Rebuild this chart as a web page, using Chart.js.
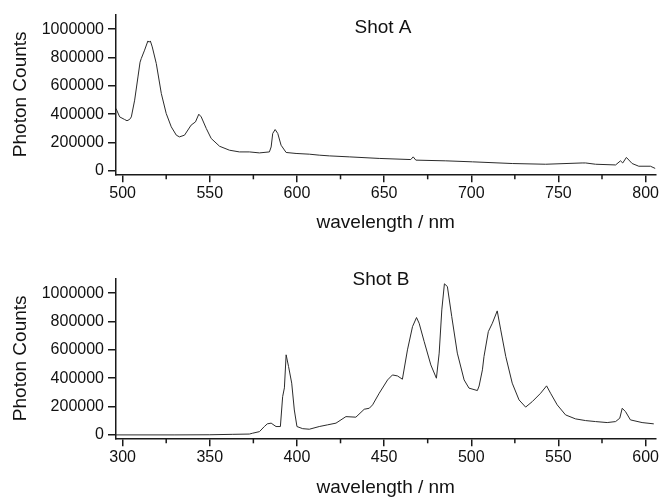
<!DOCTYPE html>
<html>
<head>
<meta charset="utf-8">
<script src="https://cdn.jsdelivr.net/npm/chart.js@4.4.1/dist/chart.umd.min.js"></script>
<style>
  html, body { margin: 0; padding: 0; background: #fff; overflow: hidden; }
  #wrap { position: relative; width: 661px; height: 498px; }
  canvas { position: absolute; left: 0; }
</style>
</head>
<body>
<div id="wrap">
  <canvas id="shotA" width="661" height="249" style="top:0px"></canvas>
  <canvas id="shotB" width="661" height="260" style="top:249px"></canvas>
</div>
<script>
// Shot A spectrum (wavelength in nm, photon counts)
const shotAWavelength = [
  496.2, 498.3, 501.1, 502.5, 504, 505, 506.9, 508.8, 510, 510.7, 512.6, 514.5, 515.2, 515.9, 517,
  519.3, 522.2, 525, 527.9, 530.8, 532.6, 535.5, 539.3, 541.8, 543.7, 545.1, 548, 550.8, 555.6,
  561.3, 567, 572.7, 578.5, 584.2, 585.2, 586.1, 587.5, 589, 590.9, 593.8, 599.5, 607.1, 612.8,
  618.6, 630, 647.2, 665.3, 666.7, 668.2, 685.4, 700.7, 723.5, 742.7, 763.6, 765.6, 771.3, 782.8,
  785.6, 786.9, 789, 792.3, 796.1, 802.8, 805.6
];
const shotACounts = [
  440000, 381000, 363000, 354000, 363000, 381000, 499000, 663000, 767000, 793000, 852000, 917000, 908000, 917000, 875000,
  758000, 546000, 405000, 311000, 252000, 240000, 252000, 323000, 346000, 400000, 381000, 299000, 229000, 174000,
  146000, 134000, 134000, 127000, 134000, 169000, 264000, 292000, 264000, 181000, 130000, 123000, 118000, 111000,
  106000, 99000, 88000, 80000, 99000, 76000, 71000, 64000, 52000, 47000, 56000, 56000, 47000, 42000,
  71000, 56000, 95000, 52000, 33000, 33000, 17000
];

// Shot B spectrum
const shotBWavelength = [
  296.2, 330, 350, 363.2, 372.7, 374.6, 378.5, 381.3, 383, 385.2, 388, 390.5, 391.8, 392.8, 393.8,
  395.2, 397, 398.5, 400, 403.3, 407.1, 412.8, 417.6, 422.4, 428.1, 433.8, 438.6, 441.5, 443.4,
  447.2, 452, 454.8, 457.7, 460.5, 463.4, 466.3, 468.6, 470.1, 473, 476.8, 480, 481.6, 483.1,
  484.6, 486.3, 488.8, 492, 495.9, 498.7, 503.5, 504.5, 506.4, 507.3, 509.8, 512.1, 514.9, 516.9,
  519.8, 523.5, 527.4, 531.2, 535, 539.8, 543.2, 545.5, 549.3, 554.1, 559.8, 565.6, 571.3, 578,
  582.8, 585.2, 586.6, 588.5, 591.3, 598, 604.7
];
const shotBCounts = [
  0, 0, 1000, 4000, 6000, 12000, 23000, 59000, 78000, 83000, 59000, 59000, 270000, 332000, 565000,
  482000, 365000, 176000, 59000, 44000, 40000, 59000, 71000, 83000, 129000, 125000, 181000, 188000, 212000,
  294000, 388000, 423000, 416000, 393000, 600000, 764000, 828000, 788000, 658000, 494000, 400000, 577000, 882000,
  1066000, 1047000, 835000, 577000, 388000, 330000, 313000, 345000, 459000, 553000, 729000, 788000, 875000, 741000,
  553000, 365000, 247000, 196000, 235000, 294000, 346000, 294000, 212000, 141000, 113000, 101000, 94000, 87000,
  94000, 118000, 188000, 164000, 106000, 87000, 78000
];

const yTicks = [0, 200000, 400000, 600000, 800000, 1000000];
const shotAMajor = [500, 550, 600, 650, 700, 750, 800];
const shotAMinor = [525, 575, 625, 675, 725, 775];
const shotBMajor = [300, 350, 400, 450, 500, 550, 600];
const shotBMinor = [325, 375, 425, 475, 525, 575];

const FONT = "'Liberation Sans', Arial, sans-serif";
const INK = "#1a1a1a";

// small ticks between the labelled ones on the x axis
const minorTicks = {
  id: "minorTicks",
  afterDraw(chart, args, opts) {
    const s = chart.scales.x;
    const ctx = chart.ctx;
    ctx.save();
    ctx.strokeStyle = INK;
    ctx.lineWidth = 1.5;
    opts.values.forEach((v) => {
      const px = s.getPixelForValue(v);
      ctx.beginPath();
      ctx.moveTo(px, s.top);
      ctx.lineTo(px, s.top + 5);
      ctx.stroke();
    });
    ctx.restore();
  },
};

// "Shot A" / "Shot B" text inside the plot
const shotLabel = {
  id: "shotLabel",
  afterDraw(chart, args, opts) {
    const ctx = chart.ctx;
    ctx.save();
    ctx.fillStyle = "#111";
    ctx.font = "19px " + FONT;
    ctx.textAlign = "center";
    ctx.textBaseline = "middle";
    ctx.fillText(opts.text, opts.x, opts.y);
    ctx.restore();
  },
};

function makeSpectrum(id, cfg) {
  const points = cfg.wavelength.map((w, i) => ({ x: w, y: cfg.counts[i] }));
  return new Chart(document.getElementById(id), {
    type: "line",
    data: {
      datasets: [
        {
          data: points,
          borderColor: "#2b2b2b",
          borderWidth: 1,
          pointRadius: 0,
          tension: 0,
          fill: false,
        },
      ],
    },
    options: {
      responsive: false,
      animation: false,
      events: [],
      layout: { padding: { top: cfg.top, right: 4, left: 0, bottom: 0 } },
      plugins: {
        legend: { display: false },
        tooltip: { enabled: false },
        minorTicks: { values: cfg.minor },
        shotLabel: { text: cfg.label, x: cfg.labelX, y: cfg.labelY },
      },
      scales: {
        x: {
          type: "linear",
          min: cfg.xMin,
          max: cfg.xMax,
          afterBuildTicks: (s) => {
            s.ticks = cfg.major.map((v) => ({ value: v }));
          },
          afterFit: (s) => {
            s.height = cfg.xHeight;
          },
          border: { color: INK, width: 1.5 },
          grid: { drawOnChartArea: false, tickLength: 8, color: INK, lineWidth: 1.5 },
          ticks: {
            color: "#111",
            font: { family: FONT, size: 16 },
            padding: 2,
            maxRotation: 0,
            autoSkip: false,
            callback: (v) => String(v),
          },
          title: {
            display: true,
            text: "wavelength / nm",
            color: "#111",
            font: { family: FONT, size: 19 },
            padding: { top: 0, bottom: cfg.titlePad },
          },
        },
        y: {
          min: -24000,
          max: 1105000,
          afterBuildTicks: (s) => {
            s.ticks = yTicks.map((v) => ({ value: v }));
          },
          afterFit: (s) => {
            s.width = 116;
          },
          border: { color: INK, width: 1.5 },
          grid: { drawOnChartArea: false, tickLength: 8, color: INK, lineWidth: 1.5 },
          ticks: {
            color: "#111",
            font: { family: FONT, size: 16 },
            padding: 4,
            callback: (v) => String(v),
          },
          title: {
            display: true,
            text: "Photon Counts",
            color: "#111",
            font: { family: FONT, size: 19 },
            padding: { top: 9, bottom: 0 },
          },
        },
      },
    },
    plugins: [minorTicks, shotLabel],
  });
}

makeSpectrum("shotA", {
  wavelength: shotAWavelength,
  counts: shotACounts,
  major: shotAMajor,
  minor: shotAMinor,
  xMin: 496.2,
  xMax: 805.7,
  top: 14.3,
  xHeight: 74.7,
  titlePad: 14.6,
  label: "Shot A",
  labelX: 383,
  labelY: 28,
});

makeSpectrum("shotB", {
  wavelength: shotBWavelength,
  counts: shotBCounts,
  major: shotBMajor,
  minor: shotBMinor,
  xMin: 296.2,
  xMax: 605.7,
  top: 29.3,
  xHeight: 70.7,
  titlePad: 9.6,
  label: "Shot B",
  labelX: 381,
  labelY: 31,
});
</script>
</body>
</html>
